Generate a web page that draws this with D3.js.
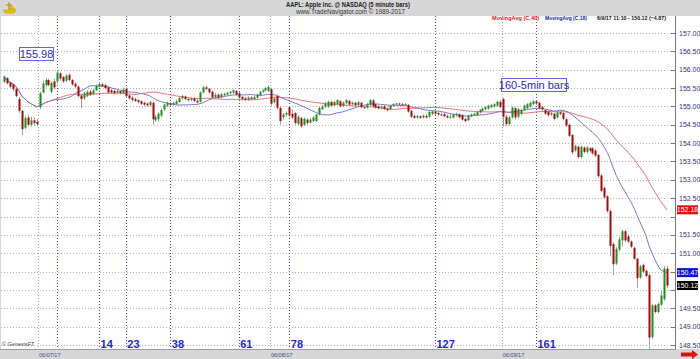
<!DOCTYPE html>
<html>
<head>
<meta charset="utf-8">
<script src="https://cdn.jsdelivr.net/npm/d3@7"></script>
<style>
	html, body { margin: 0; padding: 0; background: #fff; }
	svg { display: block; font-family: Arial, "Liberation Sans", sans-serif; }
</style>
</head>
<body>
<svg id="chart" width="700" height="359"></svg>
<script>
// 5 minute bars, bar number -18 .. 205 (bar 0 = the 155.98 high)
var firstBar = -18;

var opens = [
	155.67,155.77,155.65,155.60,155.48,155.20,154.88,154.42,154.70,154.50,
	154.62,154.58,154.98,155.38,155.58,155.72,155.40,155.68,155.68,155.90,
	155.80,155.70,155.86,155.72,155.62,155.54,155.30,155.22,155.28,155.40,
	155.34,155.44,155.54,155.60,155.58,155.52,155.44,155.42,155.38,155.42,
	155.36,155.48,155.30,155.24,155.20,155.17,155.14,155.10,155.08,155.03,
	155.10,154.62,154.65,154.75,154.92,155.02,155.08,155.05,155.06,155.12,
	155.22,155.27,155.20,155.18,155.22,155.15,155.13,155.38,155.52,155.48,
	155.40,155.25,155.32,155.25,155.30,155.32,155.36,155.38,155.42,155.36,
	155.26,155.22,155.18,155.24,155.20,155.24,155.30,155.40,155.44,155.42,
	155.47,155.12,155.28,154.96,154.70,154.78,154.98,154.80,154.82,154.52,
	154.68,154.50,154.64,154.56,154.60,154.60,154.78,154.92,154.99,154.99,
	155.12,155.03,155.06,155.14,155.01,155.09,155.15,155.06,155.10,155.04,
	155.10,154.98,154.97,155.04,155.16,155.06,155.00,154.96,155.00,154.94,
	154.92,155.02,155.05,155.08,155.06,155.03,155.04,154.88,154.74,154.70,
	154.73,154.70,154.74,154.72,154.80,154.86,154.82,154.78,154.79,154.74,
	154.70,154.70,154.76,154.79,154.76,154.66,154.62,154.73,154.76,154.76,
	154.84,154.88,154.92,154.94,154.98,155.00,155.02,155.12,155.20,154.72,
	154.52,154.70,154.95,154.72,154.80,154.90,154.95,155.00,155.06,155.14,
	155.10,154.98,154.90,154.86,154.78,154.80,154.70,154.84,154.82,154.65,
	154.50,154.22,153.80,153.90,153.62,153.88,153.76,153.86,153.86,153.80,
	153.68,153.12,152.78,152.55,152.15,151.25,150.72,151.10,151.35,151.60,
	151.46,151.32,151.15,150.85,150.34,150.68,150.52,150.40,148.72,149.58,
	149.40,149.60,149.75,150.58
];
var highs = [
	155.84,155.80,155.68,155.63,155.50,155.25,154.90,154.75,154.78,154.72,
	154.70,154.66,155.40,155.70,155.78,155.76,155.68,155.75,155.98,155.93,
	155.83,155.88,155.90,155.75,155.65,155.57,155.33,155.40,155.44,155.45,
	155.48,155.60,155.66,155.64,155.62,155.55,155.48,155.46,155.47,155.45,
	155.50,155.52,155.33,155.28,155.24,155.20,155.17,155.13,155.10,155.16,
	155.14,154.76,154.84,154.95,155.08,155.13,155.12,155.13,155.18,155.27,
	155.32,155.30,155.25,155.26,155.25,155.20,155.41,155.56,155.56,155.50,
	155.43,155.36,155.35,155.37,155.38,155.40,155.43,155.47,155.45,155.39,
	155.29,155.26,155.28,155.28,155.29,155.35,155.43,155.47,155.54,155.57,
	155.50,155.25,155.32,155.00,154.82,154.86,155.00,154.92,154.85,154.76,
	154.72,154.70,154.68,154.68,154.74,154.80,154.99,155.04,155.12,155.16,
	155.16,155.15,155.20,155.17,155.14,155.20,155.18,155.13,155.13,155.15,
	155.13,155.05,155.10,155.20,155.20,155.09,155.04,155.03,155.04,154.98,
	155.05,155.09,155.10,155.10,155.10,155.09,155.07,154.90,154.78,154.77,
	154.76,154.78,154.79,154.88,154.90,154.89,154.86,154.84,154.82,154.78,
	154.79,154.80,154.83,154.81,154.79,154.69,154.78,154.81,154.83,154.88,
	154.93,154.97,155.01,155.05,155.07,155.09,155.16,155.18,155.23,154.78,
	154.74,155.00,154.99,154.96,154.94,155.05,155.09,155.13,155.17,155.17,
	155.12,155.01,154.93,154.89,154.86,154.83,154.87,154.87,154.85,154.68,
	154.53,154.25,153.96,153.93,153.93,153.91,153.92,153.90,153.89,153.83,
	153.70,153.15,152.82,152.58,152.20,151.30,151.16,151.45,151.64,151.64,
	151.52,151.35,151.18,150.88,150.68,150.72,150.56,150.44,149.62,149.62,
	149.66,150.00,150.65,150.66
];
var lows = [
	155.64,155.60,155.50,155.42,155.25,154.82,154.22,154.38,154.45,154.45,
	154.50,154.47,154.92,155.35,155.52,155.55,155.36,155.48,155.62,155.70,
	155.64,155.66,155.68,155.56,155.50,155.25,154.95,155.18,155.25,155.28,
	155.30,155.42,155.52,155.52,155.46,155.34,155.34,155.32,155.33,155.32,
	155.33,155.24,155.18,155.14,155.12,155.08,155.03,155.00,154.99,155.00,
	154.50,154.58,154.58,154.70,154.88,154.98,155.00,155.02,155.03,155.10,
	155.18,155.17,155.13,155.14,155.12,155.08,155.10,155.35,155.44,155.35,
	155.20,155.22,155.20,155.22,155.27,155.29,155.32,155.35,155.29,155.20,
	155.16,155.14,155.15,155.17,155.17,155.21,155.27,155.37,155.41,155.39,
	155.02,155.08,154.92,154.51,154.64,154.72,154.70,154.66,154.50,154.48,
	154.41,154.46,154.50,154.53,154.57,154.57,154.75,154.90,154.96,154.96,
	154.98,155.00,155.03,154.97,154.98,155.06,155.02,155.03,155.00,155.01,
	154.95,154.93,154.94,155.01,154.97,154.94,154.92,154.92,154.90,154.87,
	154.90,154.99,155.02,155.02,155.00,155.00,154.83,154.68,154.66,154.66,
	154.66,154.67,154.67,154.69,154.76,154.77,154.75,154.73,154.70,154.67,
	154.66,154.67,154.72,154.67,154.61,154.56,154.60,154.70,154.73,154.74,
	154.81,154.85,154.89,154.91,154.95,154.97,154.99,154.95,154.45,154.45,
	154.48,154.66,154.64,154.68,154.76,154.87,154.92,154.97,155.03,155.04,
	154.92,154.88,154.77,154.72,154.74,154.62,154.67,154.76,154.62,154.44,
	154.16,153.70,153.76,153.58,153.58,153.72,153.72,153.75,153.68,153.62,
	153.05,152.66,152.48,152.10,150.92,150.40,150.68,151.05,151.18,151.30,
	151.28,151.14,150.82,150.05,150.30,150.46,150.34,148.40,148.66,149.36,
	149.36,149.56,149.70,150.05
];
var closes = [
	155.81,155.63,155.54,155.47,155.28,154.88,154.38,154.68,154.50,154.62,
	154.55,154.52,155.36,155.62,155.72,155.58,155.64,155.52,155.92,155.76,
	155.68,155.84,155.72,155.60,155.54,155.28,155.20,155.36,155.40,155.32,
	155.44,155.56,155.61,155.55,155.50,155.38,155.38,155.36,155.42,155.36,
	155.46,155.28,155.22,155.18,155.15,155.12,155.07,155.05,155.03,155.12,
	154.65,154.72,154.80,154.90,155.05,155.10,155.04,155.10,155.14,155.23,
	155.28,155.20,155.17,155.22,155.15,155.11,155.38,155.52,155.48,155.38,
	155.24,155.32,155.24,155.33,155.34,155.37,155.40,155.44,155.32,155.24,
	155.20,155.18,155.24,155.20,155.26,155.32,155.40,155.44,155.50,155.53,
	155.08,155.22,154.96,154.60,154.78,154.82,154.75,154.70,154.55,154.72,
	154.46,154.66,154.55,154.64,154.70,154.78,154.96,155.00,155.08,155.13,
	155.02,155.12,155.17,155.00,155.10,155.17,155.05,155.10,155.03,155.12,
	154.98,154.96,155.06,155.17,155.00,154.97,154.95,154.99,154.93,154.90,
	155.02,155.06,155.08,155.05,155.03,155.06,154.86,154.72,154.69,154.74,
	154.69,154.75,154.70,154.85,154.86,154.80,154.78,154.76,154.73,154.70,
	154.72,154.78,154.80,154.70,154.64,154.60,154.75,154.78,154.80,154.86,
	154.90,154.94,154.98,155.02,155.04,155.06,155.13,154.99,154.72,154.52,
	154.70,154.97,154.70,154.92,154.90,155.02,155.06,155.10,155.14,155.08,
	154.95,154.92,154.80,154.76,154.82,154.66,154.84,154.80,154.66,154.48,
	154.20,153.75,153.92,153.62,153.90,153.76,153.88,153.79,153.72,153.66,
	153.10,152.70,152.52,152.15,151.20,150.70,151.12,151.38,151.60,151.35,
	151.32,151.18,150.85,150.32,150.64,150.50,150.38,148.70,149.58,149.40,
	149.62,149.85,150.58,150.12
];

// session starts and labels
var dayStarts = [-6, 72, 150];
var dayLabels = ['06/07/17', '06/08/17', '06/09/17'];

// bar count markers
var countMarks = [0, 14, 23, 38, 61, 78, 127, 161];

var priceTicks = d3.range(148.5, 157.01, 0.5);
var lastTime = '6/9/17 11:10';

var svg = d3.select('#chart'),
	W = 700, H = 359,
	plotLeft = 1, plotRight = 675, plotTop = 16, plotBottom = 349;

var x = d3.scaleLinear().domain([0, 161]).range([57.4, 536]);
var y = d3.scaleLinear().domain([148.5, 157]).range([345, 33]);
var fmt = d3.format('.2f');

var bars = closes.map(function(c, k) {
	return { n: firstBar + k, o: opens[k], h: highs[k], l: lows[k], c: c };
});

function sma(values, period) {
	return values.map(function(v, k) {
		return d3.mean(values.slice(Math.max(0, k - period + 1), k + 1));
	});
}
var ma18 = sma(closes, 18),
	ma40 = sma(closes, 40);

// background
svg.append('rect').attr('width', W).attr('height', H).attr('fill', '#d7d7d7');
svg.append('rect')
	.attr('x', plotLeft).attr('y', plotTop)
	.attr('width', W - plotLeft).attr('height', plotBottom - plotTop)
	.attr('fill', '#fff');

svg.append('clipPath').attr('id', 'plot-clip')
	.append('rect')
	.attr('x', plotLeft).attr('y', plotTop)
	.attr('width', plotRight - plotLeft).attr('height', plotBottom - plotTop);

// horizontal grid
svg.append('g').selectAll('line')
	.data(priceTicks)
	.enter().append('line')
	.attr('x1', plotLeft).attr('x2', plotRight - 4)
	.attr('y1', function(d) { return Math.round(y(d)) + 0.5; })
	.attr('y2', function(d) { return Math.round(y(d)) + 0.5; })
	.attr('stroke', '#b4b4b4')
	.attr('stroke-dasharray', '1,2');

// session separators
svg.append('g').selectAll('line')
	.data(dayStarts)
	.enter().append('line')
	.attr('x1', function(d) { return Math.round(x(d - 0.5)) + 0.5; })
	.attr('x2', function(d) { return Math.round(x(d - 0.5)) + 0.5; })
	.attr('y1', plotTop).attr('y2', plotBottom)
	.attr('stroke', '#a8a8a8')
	.attr('stroke-dasharray', '1,2');

// bar count lines
svg.append('g').selectAll('line')
	.data(countMarks)
	.enter().append('line')
	.attr('x1', function(d) { return Math.round(x(d)) + 0.5; })
	.attr('x2', function(d) { return Math.round(x(d)) + 0.5; })
	.attr('y1', plotTop).attr('y2', plotBottom)
	.attr('stroke', '#4646e6')
	.attr('stroke-dasharray', '1,2');

var plot = svg.append('g').attr('clip-path', 'url(#plot-clip)');

// moving averages
var line = d3.line()
	.x(function(d, k) { return x(firstBar + k); })
	.y(function(d) { return y(d); });

plot.append('path').datum(ma40)
	.attr('d', line).attr('fill', 'none')
	.attr('stroke', '#e27575').attr('stroke-width', 1);
plot.append('path').datum(ma18)
	.attr('d', line).attr('fill', 'none')
	.attr('stroke', '#7878c8').attr('stroke-width', 1);

// candles
var candle = plot.selectAll('.candle')
	.data(bars)
	.enter().append('g')
	.attr('class', 'candle');

candle.append('line')
	.attr('x1', function(d) { return Math.round(x(d.n)) + 0.5; })
	.attr('x2', function(d) { return Math.round(x(d.n)) + 0.5; })
	.attr('y1', function(d) { return y(d.h); })
	.attr('y2', function(d) { return y(d.l); })
	.attr('stroke', '#a0a0a0');

candle.append('rect')
	.attr('x', function(d) { return Math.round(x(d.n)) - 0.5; })
	.attr('width', 2)
	.attr('y', function(d) { return y(Math.max(d.o, d.c)); })
	.attr('height', function(d) { return Math.max(1, Math.abs(y(d.o) - y(d.c))); })
	.attr('fill', function(d) { return d.c >= d.o ? '#1e8c1e' : '#9e0a0a'; });

// last value flags
var flags = [
	{ v: ma40[ma40.length - 1], bg: '#e01010' },
	{ v: ma18[ma18.length - 1], bg: '#1010d0' },
	{ v: closes[closes.length - 1], bg: '#000' }
];

// right axis
svg.append('line')
	.attr('x1', plotRight + 0.5).attr('x2', plotRight + 0.5)
	.attr('y1', plotTop).attr('y2', plotBottom)
	.attr('stroke', '#777');

var axis = svg.append('g').selectAll('g')
	.data(priceTicks)
	.enter().append('g');
axis.append('line')
	.attr('x1', plotRight - 4).attr('x2', plotRight)
	.attr('y1', function(d) { return Math.round(y(d)) + 0.5; })
	.attr('y2', function(d) { return Math.round(y(d)) + 0.5; })
	.attr('stroke', '#777');
// labels hidden where a flag sits on top of them
axis.filter(function(d) {
		return !flags.some(function(f) { return Math.abs(y(f.v) - y(d)) < 9; });
	})
	.append('text')
	.attr('x', 679)
	.attr('y', function(d) { return y(d) + 2.5; })
	.attr('font-size', 7)
	.attr('fill', '#35357a')
	.text(fmt);

var flag = svg.append('g').selectAll('g')
	.data(flags)
	.enter().append('g');
flag.append('rect')
	.attr('x', 677).attr('width', 21).attr('height', 9)
	.attr('y', function(d) { return y(d.v) - 4.5; })
	.attr('fill', function(d) { return d.bg; });
flag.append('text')
	.attr('x', 687.5).attr('text-anchor', 'middle')
	.attr('y', function(d) { return y(d.v) + 2.5; })
	.attr('font-size', 7).attr('fill', '#fff')
	.text(function(d) { return fmt(d.v); });

// bottom date labels
svg.append('g').selectAll('text')
	.data(dayLabels)
	.enter().append('text')
	.attr('x', function(d, i) { return x(dayStarts[i] - 0.5) + 1; })
	.attr('y', 356.5)
	.attr('font-size', 5.5)
	.attr('fill', '#3a4a90')
	.text(function(d) { return d; });

// bar count labels
svg.append('g').selectAll('text')
	.data(countMarks.slice(1))
	.enter().append('text')
	.attr('x', function(d) { return x(d) + 1.5; })
	.attr('y', 348)
	.attr('font-size', 11)
	.attr('font-weight', 'bold')
	.attr('fill', '#2424dc')
	.text(function(d) { return d; });

// note boxes
function noteBox(tx, ty, w, label) {
	svg.append('rect')
		.attr('x', tx + 0.5).attr('y', ty + 0.5)
		.attr('width', w).attr('height', 13)
		.attr('fill', '#fff').attr('stroke', '#6464d6');
	svg.append('text')
		.attr('x', tx + w / 2 + 0.5).attr('y', ty + 10.5)
		.attr('text-anchor', 'middle')
		.attr('font-size', 11)
		.attr('fill', '#2a2ac8')
		.text(label);
}
noteBox(19, 47, 34, fmt(highs[0 - firstBar]));
noteBox(501, 78, 65, '160-5min bars');

// header
svg.append('rect').attr('width', W).attr('height', plotTop).attr('fill', '#d7d7d7');
svg.append('text')
	.attr('x', 286).attr('y', 7)
	.attr('textLength', 124).attr('lengthAdjust', 'spacingAndGlyphs')
	.attr('font-size', 6.5).attr('font-weight', 'bold').attr('fill', '#222')
	.text('AAPL: Apple Inc. @ NASDAQ  (5 minute bars)');
svg.append('text')
	.attr('x', 296).attr('y', 14)
	.attr('textLength', 109).attr('lengthAdjust', 'spacingAndGlyphs')
	.attr('font-size', 6.5).attr('fill', '#333')
	.text('www.TradeNavigator.com \u00a9 1989-2017');

// logo
var logo = svg.append('g').attr('fill', '#e8c018').attr('stroke', '#c09000').attr('stroke-width', 0.5);
logo.append('path').attr('d', 'M3,10 L16,10 L14,13 L5,13 Z');
logo.append('path').attr('d', 'M9,2 L9,10 M6,5 L12,5').attr('fill', 'none').attr('stroke-width', 1.2);
logo.append('path').attr('d', 'M10,4 L15,9 L10,9 Z');

// legend
var prevClose = closes[dayStarts[2] - 1 - firstBar],
	lastClose = closes[closes.length - 1];
var legend = [
	{ x: 492, w: 47, text: 'MovingAvg (C,40)', fill: '#e02020' },
	{ x: 545, w: 42, text: 'MovingAvg (C,18)', fill: '#2020b0' },
	{ x: 597, w: 69, text: lastTime + ' - ' + fmt(lastClose) + ' (' + fmt(lastClose - prevClose) + ')', fill: '#111' }
];
svg.append('g').selectAll('text')
	.data(legend)
	.enter().append('text')
	.attr('x', function(d) { return d.x; })
	.attr('y', 20)
	.attr('textLength', function(d) { return d.w; })
	.attr('lengthAdjust', 'spacingAndGlyphs')
	.attr('font-size', 6)
	.attr('font-weight', 'bold')
	.attr('fill', function(d) { return d.fill; })
	.text(function(d) { return d.text; });

svg.append('text')
	.attr('x', 2).attr('y', 346)
	.attr('font-size', 5.5).attr('fill', '#444')
	.text('\u00a9 GenesisFT');

// bottom edge + arrow
svg.append('line')
	.attr('x1', 0).attr('x2', plotRight + 1)
	.attr('y1', plotBottom + 0.5).attr('y2', plotBottom + 0.5)
	.attr('stroke', '#9a9a9a');
svg.append('path')
	.attr('d', 'M681,352.5 L692,352.5 L692,350 L698,354.5 L692,359 L692,356.5 L681,356.5 Z')
	.attr('fill', '#e01010');
</script>
</body>
</html>
